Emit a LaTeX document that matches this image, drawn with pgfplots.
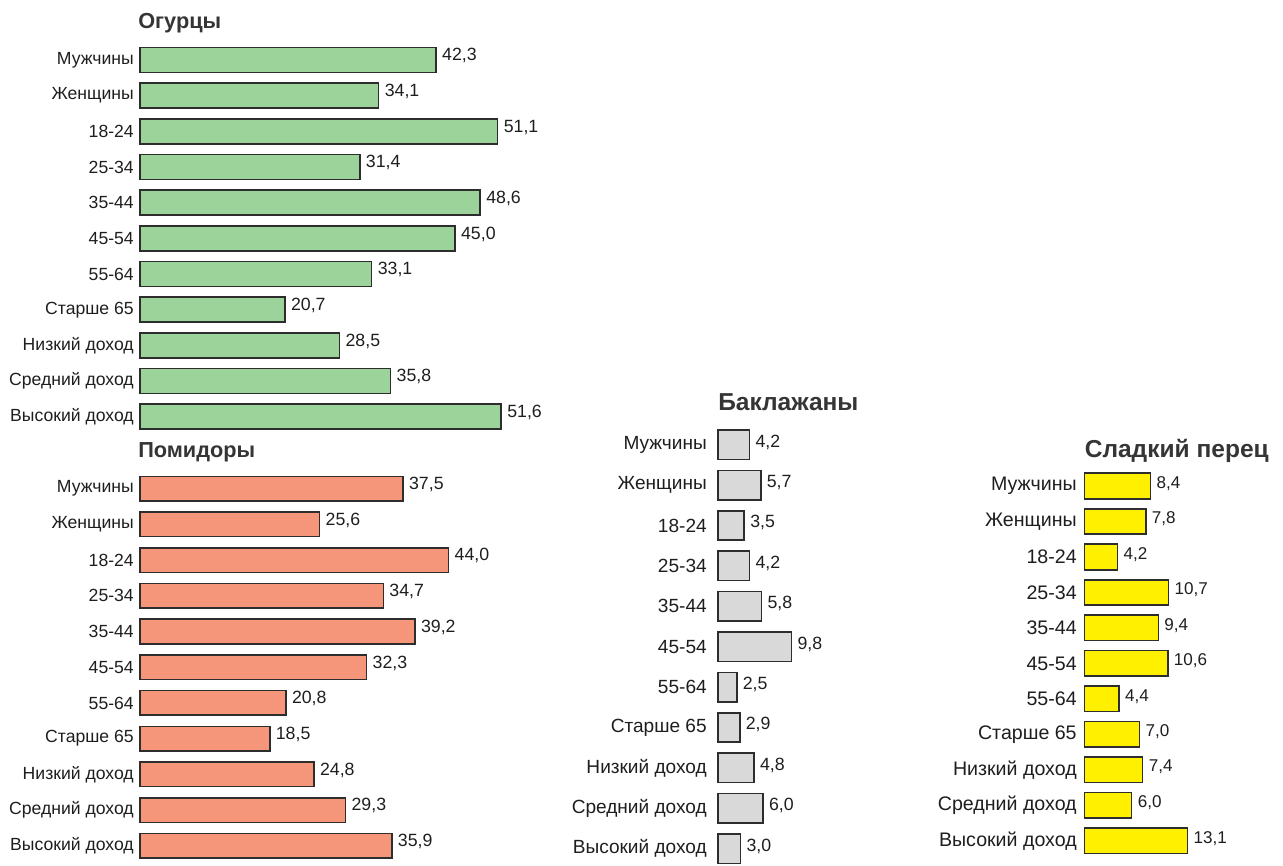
\documentclass[border=0pt]{standalone}
\usepackage{fontspec}
\setmainfont{Liberation Sans}
\usepackage{pgfplots}
\pgfplotsset{compat=1.18}
\definecolor{cgreen}{RGB}{155,211,155}
\definecolor{csalmon}{RGB}{245,150,122}
\definecolor{cgray}{RGB}{217,217,217}
\definecolor{cyellow}{RGB}{255,240,0}
\definecolor{cedge}{RGB}{45,45,45}
\definecolor{ctext}{RGB}{30,30,30}
\pgfplotsset{
  panel/.style={
    xbar, clip=false,
    axis line style={draw=none},
    ytick style={draw=none}, xtick=\empty, major tick length=0pt,
    y dir=reverse, xmin=0, ymin=-0.5, ymax=10.5,
    ytick={0,...,10},
    yticklabels={Мужчины,Женщины,18-24,25-34,35-44,45-54,55-64,Старше 65,Низкий доход,Средний доход,Высокий доход},
    yticklabel style={font=\fontsize{13.2}{15}\selectfont, inner sep=0pt, text=ctext},
    point meta=x,
    nodes near coords,
    every node near coord/.append style={font=\fontsize{13.3}{15}\selectfont, anchor=west, inner sep=0pt, xshift=4pt, text=ctext},
    title style={at={(0,1)}, anchor=west, inner sep=0pt, font=\fontsize{16.3}{18}\selectfont\bfseries, text=ctext!90!white},
    /pgf/number format/.cd, fixed, fixed zerofill, precision=1, use comma, assume math mode=true
  }
}
\begin{document}
\begin{tikzpicture}
\path[use as bounding box] (0,0) rectangle (962.25pt,-648.75pt);

% Огурцы
\begin{axis}[panel, at={(105pt,-31.63pt)}, anchor=north west,
  x=5.25pt, y=26.75pt, xmax=60, bar width=18.75pt,
  yticklabel style={xshift=-4.5pt},
  every node near coord/.append style={yshift=3.2pt},
  title={Огурцы}, title style={xshift=-1.5pt, yshift=8.3pt}]
\addplot[fill=cgreen, draw=cedge, line width=1.2pt] coordinates {
(42.3,0) (34.1,1) (51.1,2) (31.4,3) (48.6,4) (45.0,5) (33.1,6) (20.7,7) (28.5,8) (35.8,9) (51.6,10)};
\end{axis}

% Помидоры
\begin{axis}[panel, at={(105pt,-353.14pt)}, anchor=north west,
  x=5.26pt, y=26.78pt, xmax=60, bar width=18.4pt,
  yticklabel style={xshift=-4.5pt},
  every node near coord/.append style={yshift=3.2pt},
  title={Помидоры}, title style={xshift=-1.5pt, yshift=8.3pt}]
\addplot[fill=csalmon, draw=cedge, line width=1.2pt] coordinates {
(37.5,0) (25.6,1) (44.0,2) (34.7,3) (39.2,4) (32.3,5) (20.8,6) (18.5,7) (24.8,8) (29.3,9) (35.9,10)};
\end{axis}

% Баклажаны
\begin{axis}[panel, at={(538.5pt,-318.4pt)}, anchor=north west,
  x=5.625pt, y=30.3pt, xmax=12, bar width=22.1pt,
  yticklabel style={xshift=-8.25pt, font=\fontsize{14.3}{16}\selectfont},
  every node near coord/.append style={yshift=2pt},
  title={Баклажаны}, title style={xshift=0pt, yshift=11pt, font=\fontsize{18.4}{20}\selectfont\bfseries}]
\addplot[fill=cgray, draw=cedge, line width=1.2pt] coordinates {
(4.2,0) (5.7,1) (3.5,2) (4.2,3) (5.8,4) (9.8,5) (2.5,6) (2.9,7) (4.8,8) (6.0,9) (3.0,10)};
\end{axis}

% Сладкий перец
\begin{axis}[panel, at={(813.4pt,-351.2pt)}, anchor=north west,
  x=5.89pt, y=26.61pt, xmax=15, bar width=19.1pt,
  yticklabel style={xshift=-5.7pt, font=\fontsize{14.7}{16}\selectfont},
  every node near coord/.append style={yshift=2pt, font=\fontsize{12.8}{15}\selectfont},
  title={Сладкий перец}, title style={xshift=0pt, yshift=7pt, font=\fontsize{18.4}{20}\selectfont\bfseries}]
\addplot[fill=cyellow, draw=cedge, line width=1.2pt] coordinates {
(8.4,0) (7.8,1) (4.2,2) (10.7,3) (9.4,4) (10.6,5) (4.4,6) (7.0,7) (7.4,8) (6.0,9) (13.1,10)};
\end{axis}
\end{tikzpicture}
\end{document}
